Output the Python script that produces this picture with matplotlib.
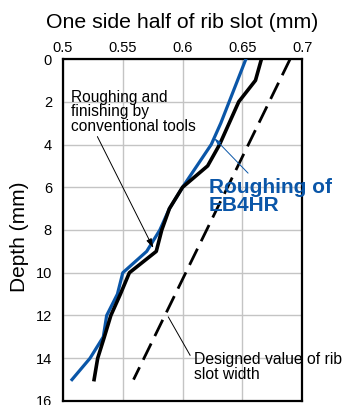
import matplotlib
matplotlib.use('Agg')
import matplotlib.pyplot as plt

plt.rcParams['font.family'] = ['Liberation Sans', 'DejaVu Sans']

depth = [0, 1, 2, 3, 4, 5, 6, 7, 8, 9, 10, 11, 12, 13, 14, 15]
eb4hr = [0.653, 0.646, 0.639, 0.632, 0.624, 0.612, 0.600, 0.589, 0.581, 0.570,
         0.550, 0.5455, 0.5365, 0.5337, 0.5226, 0.5075]
conventional = [0.666, 0.661, 0.647, 0.639, 0.631, 0.621, 0.600, 0.589, 0.5826, 0.578,
                0.5555, 0.548, 0.540, 0.5346, 0.529, 0.526]
design_depth = [0, 15]
design = [0.69, 0.559]

xticks = [0.5, 0.55, 0.6, 0.65, 0.7]
xtick_labels = ['0.5', '0.55', '0.6', '0.65', '0.7']
yticks = [0, 2, 4, 6, 8, 10, 12, 14, 16]

blue = '#0a56a8'

fig = plt.figure(figsize=(3.47, 4.05), dpi=100)
ax = fig.add_axes([0.1816, 0.0099, 0.689, 0.8444])

ax.plot(eb4hr, depth, color=blue, lw=2.3, zorder=3)
ax.plot(conventional, depth, color='black', lw=2.6, zorder=4)
ax.plot(design, design_depth, color='black', lw=2.0, linestyle=(0, (6.5, 3)), zorder=3)

ax.set_xlim(0.5, 0.7)
ax.set_ylim(16, 0)
ax.set_xticks(xticks)
ax.set_xticklabels(xtick_labels)
ax.set_yticks(yticks)
ax.xaxis.tick_top()
ax.tick_params(axis='x', length=0, pad=3, labelsize=10.5)
ax.tick_params(axis='y', length=0, pad=8, labelsize=10.5)
ax.grid(True, color='#c4c4c4', lw=1.0, zorder=0)
for s in ax.spines.values():
    s.set_linewidth(1.6)

ax.text(0.5, 1.108, 'One side half of rib slot (mm)', transform=ax.transAxes,
        ha='center', va='center', fontsize=15.3)
ax.text(-0.18, 0.48, 'Depth (mm)', transform=ax.transAxes, rotation=90,
        ha='center', va='center', fontsize=15)

ax.annotate('Roughing and\nfinishing by\nconventional tools', xy=(0.5756, 8.85),
            xytext=(0.5067, 1.45), ha='left', va='top', fontsize=11.2, linespacing=0.95,
            arrowprops=dict(arrowstyle='-|>,head_length=0.5,head_width=0.15', lw=0.7,
                            color='black', shrinkA=0, shrinkB=0,
                            relpos=(0.2, 0.0)), zorder=5)

ax.annotate('', xy=(0.6266, 3.71), xytext=(0.6548, 5.34),
            arrowprops=dict(arrowstyle='-|>,head_length=0.4,head_width=0.12', lw=0.7,
                            color=blue, shrinkA=0, shrinkB=0), zorder=5)
ax.text(0.6222, 5.55, 'Roughing of\nEB4HR', ha='left', va='top', fontsize=15,
        fontweight='bold', color=blue, linespacing=0.95, zorder=5)

ax.plot([0.6063, 0.5881], [13.86, 12.07], color='black', lw=0.7, zorder=5)
ax.text(0.6096, 14.4, 'Designed value of rib\nslot width', ha='left', va='center',
        fontsize=11.3, linespacing=0.98, zorder=5)

fig.savefig('out.png', dpi=100)
